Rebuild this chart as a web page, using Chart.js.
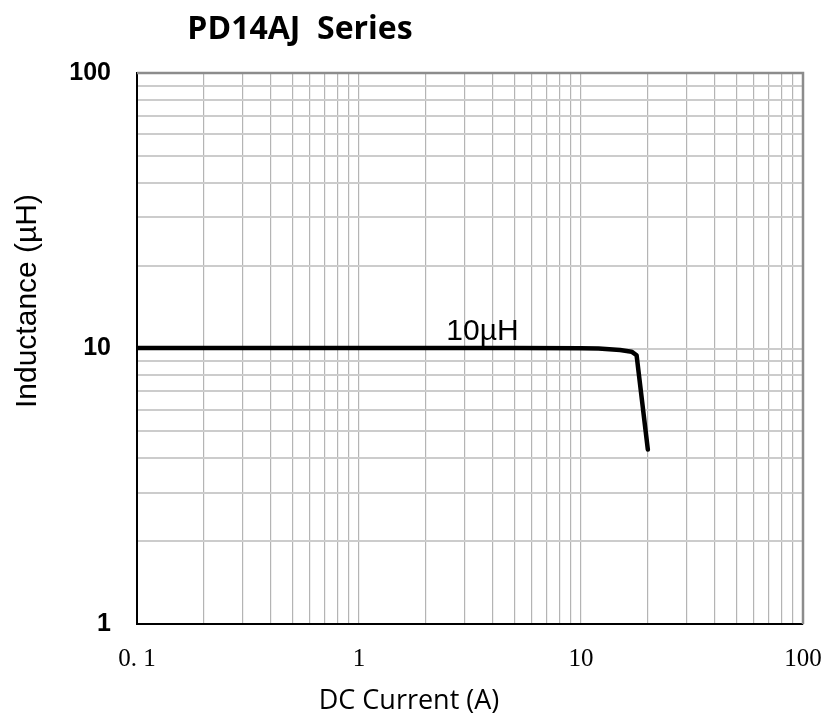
<!DOCTYPE html>
<html>
<head>
<meta charset="utf-8">
<script src="https://cdn.jsdelivr.net/npm/chart.js@4/dist/chart.umd.min.js"></script>
<style>
  html, body { margin: 0; padding: 0; background: #fff; }
  #wrap { width: 827px; height: 715px; position: relative; }
</style>
</head>
<body>
<div id="wrap"><canvas id="inductanceChart"></canvas></div>
<script>
/* datos */
const currentA = [0.1, 0.5, 1, 2, 5, 10, 12, 15, 16.9, 17.8, 20];
const inductanceUH = [10.05, 10.05, 10.05, 10.05, 10.05, 10.03, 10.0, 9.88, 9.74, 9.45, 4.3];

// posiciones de la rejilla (log) y etiquetas de las decadas
const xGridValues = [0.1, 0.2, 0.3, 0.4, 0.5, 0.6, 0.7, 0.8, 0.9, 1, 2, 3, 4, 5, 6, 7, 8, 9, 10, 20, 30, 40, 50, 60, 70, 80, 90, 100];
const yGridValues = [1, 2, 3, 4, 5, 6, 7, 8, 9, 10, 20, 30, 40, 50, 60, 70, 80, 90, 100];
const xTickLabels = { 0.1: "0. 1", 1: "1", 10: "10", 100: "100" };
const yTickLabels = { 1: "1", 10: "10", 100: "100" };

const chartTitle = "PD14AJ  Series";
const xTitle = "DC Current (A)";
const yTitle = "Inductance (µH)";
const curveLabel = "10µH";
const curveLabelAt = [3.6, 10];

// textos y marco extra
const extraText = {
  id: "extraText",
  afterDraw(chart) {
    const ctx = chart.ctx;
    const area = chart.chartArea;
    ctx.save();
    // marco superior y derecho en gris
    ctx.strokeStyle = "#8c8c8c";
    ctx.lineWidth = 2.5;
    ctx.beginPath();
    ctx.moveTo(area.left, area.top);
    ctx.lineTo(area.right, area.top);
    ctx.lineTo(area.right, area.bottom);
    ctx.stroke();

    ctx.fillStyle = "#000";
    ctx.textAlign = "center";
    ctx.textBaseline = "alphabetic";
    ctx.font = "bold 32px 'Open Sans'";
    ctx.fillText(chartTitle, 300, 39);

    ctx.font = "27px 'Open Sans'";
    ctx.fillText(xTitle, 409, 709);

    const px = chart.scales.x.getPixelForValue(curveLabelAt[0]);
    const py = chart.scales.y.getPixelForValue(curveLabelAt[1]);
    ctx.font = "30px 'Liberation Sans'";
    ctx.fillText(curveLabel, px, py - 9);

    ctx.translate(28, 301);
    ctx.rotate(-Math.PI / 2);
    ctx.textBaseline = "middle";
    ctx.font = "30px 'Liberation Sans'";
    ctx.fillText(yTitle, 0, 0);
    ctx.restore();
  }
};

const ctxChart = document.getElementById("inductanceChart").getContext("2d");

new Chart(ctxChart, {
  type: "line",
  data: {
    datasets: [
      {
        label: curveLabel,
        data: currentA.map((c, i) => ({ x: c, y: inductanceUH[i] })),
        borderColor: "#000",
        borderWidth: 4.5,
        borderCapStyle: "round",
        borderJoinStyle: "round",
        pointRadius: 0,
        tension: 0,
        fill: false
      }
    ]
  },
  options: {
    responsive: true,
    maintainAspectRatio: false,
    animation: false,
    layout: { padding: { top: 73, right: 24, bottom: 0, left: 0 } },
    plugins: {
      legend: { display: false },
      tooltip: { enabled: false },
      title: { display: false }
    },
    scales: {
      x: {
        type: "logarithmic",
        min: 0.1,
        max: 100,
        afterBuildTicks: (scale) => {
          scale.ticks = xGridValues.map((v) => ({ value: v }));
        },
        afterFit: (scale) => {
          scale.height = 91;
          scale.paddingLeft = 0;
          scale.paddingRight = 0;
        },
        ticks: {
          autoSkip: false,
          maxRotation: 0,
          padding: 20,
          color: "#000",
          font: { family: "'Liberation Serif'", size: 25 },
          callback: (value) => xTickLabels[value] || ""
        },
        grid: { color: "#b4b4b4", lineWidth: 1.2, drawTicks: false },
        border: { color: "#000", width: 2 }
      },
      y: {
        type: "logarithmic",
        min: 1,
        max: 100,
        afterBuildTicks: (scale) => {
          scale.ticks = yGridValues.map((v) => ({ value: v }));
        },
        afterFit: (scale) => {
          scale.width = 137;
          scale.paddingTop = 0;
          scale.paddingBottom = 0;
        },
        ticks: {
          autoSkip: false,
          padding: 26,
          color: "#000",
          font: { family: "'Liberation Sans'", size: 25, weight: "bold" },
          callback: (value) => yTickLabels[value] || ""
        },
        grid: { color: "#cccccc", lineWidth: 2, drawTicks: false },
        border: { color: "#000", width: 2 }
      }
    }
  },
  plugins: [extraText]
});
</script>
</body>
</html>
